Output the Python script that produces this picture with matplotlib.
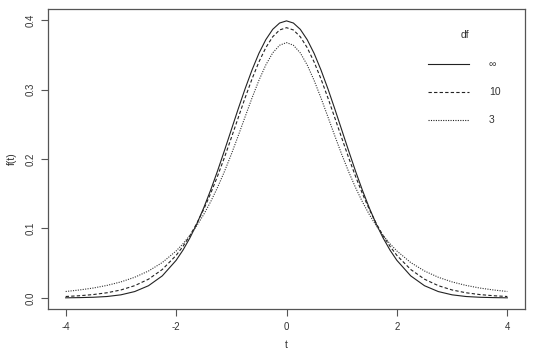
import matplotlib
matplotlib.use("Agg")
import matplotlib.pyplot as plt

# t values on the x axis (finer steps around the peak)
t = [-4.0, -3.75, -3.5, -3.25, -3.0, -2.75, -2.5, -2.25,
     -2.0, -1.875, -1.75, -1.625, -1.5, -1.375, -1.25, -1.125,
     -1.0, -0.875, -0.75, -0.625, -0.5, -0.375, -0.25, -0.125,
     0.0, 0.125, 0.25, 0.375, 0.5, 0.625, 0.75, 0.875,
     1.0, 1.125, 1.25, 1.375, 1.5, 1.625, 1.75, 1.875,
     2.0, 2.25, 2.5, 2.75, 3.0, 3.25, 3.5, 3.75, 4.0]

# density, one list per df
f_inf = [0.0001, 0.0004, 0.0009, 0.0020, 0.0044, 0.0091, 0.0175, 0.0317,
         0.0540, 0.0688, 0.0863, 0.1065, 0.1295, 0.1550, 0.1826, 0.2119,
         0.2420, 0.2721, 0.3011, 0.3281, 0.3521, 0.3718, 0.3867, 0.3958,
         0.3989, 0.3958, 0.3867, 0.3718, 0.3521, 0.3281, 0.3011, 0.2721,
         0.2420, 0.2119, 0.1826, 0.1550, 0.1295, 0.1065, 0.0863, 0.0688,
         0.0540, 0.0317, 0.0175, 0.0091, 0.0044, 0.0020, 0.0009, 0.0004, 0.0001]
f_10 = [0.0020, 0.0031, 0.0048, 0.0074, 0.0114, 0.0176, 0.0269, 0.0409,
        0.0611, 0.0742, 0.0895, 0.1072, 0.1274, 0.1501, 0.1751, 0.2020,
        0.2304, 0.2593, 0.2880, 0.3152, 0.3397, 0.3603, 0.3760, 0.3858,
        0.3891, 0.3858, 0.3760, 0.3603, 0.3397, 0.3152, 0.2880, 0.2593,
        0.2304, 0.2020, 0.1751, 0.1501, 0.1274, 0.1072, 0.0895, 0.0742,
        0.0611, 0.0409, 0.0269, 0.0176, 0.0114, 0.0074, 0.0048, 0.0031, 0.0020]
f_3 = [0.0092, 0.0114, 0.0142, 0.0180, 0.0230, 0.0297, 0.0387, 0.0509,
       0.0675, 0.0779, 0.0900, 0.1040, 0.1200, 0.1383, 0.1589, 0.1818,
       0.2067, 0.2333, 0.2607, 0.2878, 0.3132, 0.3354, 0.3528, 0.3638,
       0.3676, 0.3638, 0.3528, 0.3354, 0.3132, 0.2878, 0.2607, 0.2333,
       0.2067, 0.1818, 0.1589, 0.1383, 0.1200, 0.1040, 0.0900, 0.0779,
       0.0675, 0.0509, 0.0387, 0.0297, 0.0230, 0.0180, 0.0142, 0.0114, 0.0092]

legend_title = "df"
legend_labels = ["\u221e", "10", "3"]

plt.rcParams['font.family'] = ['Liberation Sans', 'DejaVu Sans']
txt = '#333333'
edge = '#555555'

fig = plt.figure(figsize=(5.35, 3.58), dpi=100)
ax = fig.add_axes([48/535, 1-309/358, (525-48)/535, (309-9)/358])

ax.plot(t, f_inf, color='#222222', lw=0.8, ls='-')
ax.plot(t, f_10, color='#222222', lw=0.8, ls=(0, (3, 2)))
ax.plot(t, f_3, color='#333333', lw=0.8, ls=(0, (1, 1.2)))

ax.set_xlim(-4.32, 4.32)
ax.set_ylim(-0.016, 0.416)
ax.set_xticks([-4, -2, 0, 2, 4])
ax.set_yticks([0.0, 0.1, 0.2, 0.3, 0.4])
ax.set_xticklabels(["-4", "-2", "0", "2", "4"])
ax.set_yticklabels(["0.0", "0.1", "0.2", "0.3", "0.4"], rotation=90, va='center')
ax.tick_params(labelsize=7, colors=edge, labelcolor=txt, length=5, width=0.8, pad=4)
for s in ax.spines.values():
    s.set_color(edge)
    s.set_linewidth(0.9)

ax.set_xlabel("t", fontsize=7.5, color=txt, labelpad=6)
ax.set_ylabel("f(t)", fontsize=7.5, color=txt, labelpad=6)

# legend without a frame, laid out like the R version
leg_x0, leg_x1, lab_x = 428, 469, 489
rows_y = [64, 92, 120]
styles = ['-', (0, (3, 2)), (0, (1, 1.2))]
fig.text(465/535, 1-35/358, legend_title, fontsize=7.5, color=txt, ha='center', va='center')
for y, ls, lab in zip(rows_y, styles, legend_labels):
    fig.add_artist(plt.Line2D([leg_x0/535, leg_x1/535], [1-y/358, 1-y/358], color='#222222', lw=0.8, ls=ls))
    fig.text(lab_x/535, 1-y/358, lab, fontsize=7.5, color=txt, ha='left', va='center')

fig.savefig("out.png", dpi=100)
